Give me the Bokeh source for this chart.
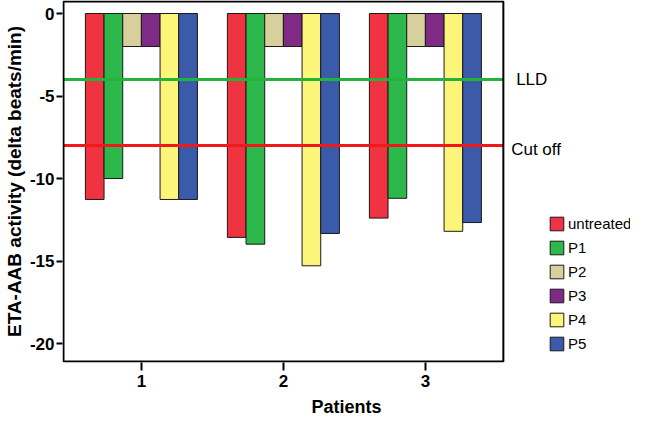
from bokeh.plotting import figure
from bokeh.models import ColumnDataSource, Legend, LegendItem, Label, FixedTicker, Range1d
from bokeh.transform import dodge
from bokeh.embed import file_html
from bokeh.resources import INLINE

# ---- data ----
patients = [1, 2, 3]
series = ["untreated", "P1", "P2", "P3", "P4", "P5"]
untreated = [-11.27, -13.57, -12.40]
p1 = [-10.0, -13.98, -11.20]
p2 = [-2.0, -2.0, -2.0]
p3 = [-2.0, -2.0, -2.0]
p4 = [-11.27, -15.29, -13.20]
p5 = [-11.27, -13.33, -12.67]
lld = -4.0
cutoff = -8.0
y_ticks = [0, -5, -10, -15, -20]
y_tick_labels = ["0", "-5", "-10", "-15", "-20"]
x_ticks = [1, 2, 3]
x_tick_labels = ["1", "2", "3"]
colors = ["#EF3340", "#2DB84B", "#D8D09C", "#7F2A85", "#FDF57A", "#3C5AAA"]

values = [untreated, p1, p2, p3, p4, p5]
src = ColumnDataSource(dict(patient=patients, zero=[0, 0, 0],
                            **{s: v for s, v in zip(series, values)}))

FONT = "Liberation Sans"

# plot box (axes extent) and visible ranges
px_x = 144.0   # px per x unit
px_y = 16.5    # px per y unit
x_start = 0.4444
x_lo = x_start + 1 / px_x
x_hi = 3.549
x_end = x_start + 576 / px_x
y_end = 13 / px_y
y_hi = 12 / px_y
y_start = -349 / px_y
y_lo = y_start + 1 / px_y

p = figure(width=630, height=419, output_backend="svg", toolbar_location=None,
           x_range=Range1d(x_start, x_end), y_range=Range1d(y_start, y_end),
           min_border_left=54, min_border_right=0, min_border_top=0, min_border_bottom=57)
p.xgrid.visible = False
p.ygrid.visible = False
p.outline_line_color = None
p.background_fill_color = "white"
p.border_fill_color = "white"

bw = 0.1315
renderers = []
for i, (s, c) in enumerate(zip(series, colors)):
    off = (i - 2.5) * bw
    r = p.vbar(x=dodge("patient", off, range=p.x_range), top="zero", bottom=s,
               width=bw, source=src, fill_color=c, line_color="#1a1a1a", line_width=1)
    renderers.append(r)

p.segment(x0=[x_lo], x1=[x_hi], y0=[lld], y1=[lld], line_color="#22B43A", line_width=3)
p.segment(x0=[x_lo], x1=[x_hi], y0=[cutoff], y1=[cutoff], line_color="#F01818", line_width=3)

p.quad(left=[x_lo], right=[x_hi], top=[y_hi], bottom=[y_lo],
       fill_color=None, line_color="black", line_width=2)

p.add_layout(Label(x=3.639, y=lld, text="LLD", text_baseline="middle",
                   text_font=FONT, text_font_size="17px", text_color="black"))
p.add_layout(Label(x=3.604, y=cutoff - 0.25, text="Cut off", text_baseline="middle",
                   text_font=FONT, text_font_size="17px", text_color="black"))

# axes
p.yaxis.ticker = FixedTicker(ticks=y_ticks)
p.xaxis.ticker = FixedTicker(ticks=x_ticks)
p.yaxis.major_label_overrides = dict(zip(y_ticks, y_tick_labels))
p.xaxis.major_label_overrides = dict(zip(x_ticks, x_tick_labels))
for ax in (p.xaxis, p.yaxis):
    ax.axis_line_color = None
    ax.minor_tick_line_color = None
    ax.major_tick_in = 0
    ax.major_tick_line_color = "black"
    ax.major_tick_line_width = 2
    ax.major_label_text_font = FONT
    ax.major_label_text_font_style = "bold"
    ax.major_label_text_color = "black"
    ax.axis_label_text_font = FONT
    ax.axis_label_text_font_style = "bold"
    ax.axis_label_text_color = "black"

p.yaxis.major_tick_out = 6
p.yaxis.major_label_standoff = 2
p.yaxis.major_label_text_font_size = "17px"
p.yaxis.axis_label = "ETA-AAB activity (delta beats/min)"
p.yaxis.axis_label_text_font_size = "19px"
p.yaxis.axis_label_standoff = 2

p.xaxis.major_tick_out = 8
p.xaxis.major_label_standoff = 4
p.xaxis.major_label_text_font_size = "17px"
p.xaxis.axis_label = "Patients"
p.xaxis.axis_label_text_font_size = "18px"
p.xaxis.axis_label_standoff = 7

legend = Legend(items=[LegendItem(label=s, renderers=[r]) for s, r in zip(series, renderers)],
                location=(486, 10), margin=0, padding=0, spacing=7,
                glyph_width=17, glyph_height=17, label_height=17, label_standoff=3,
                label_text_font=FONT, label_text_font_size="15px", label_text_color="black",
                border_line_color=None, background_fill_alpha=0)
p.add_layout(legend, "center")

open("out.html", "w").write(file_html(p, INLINE))
